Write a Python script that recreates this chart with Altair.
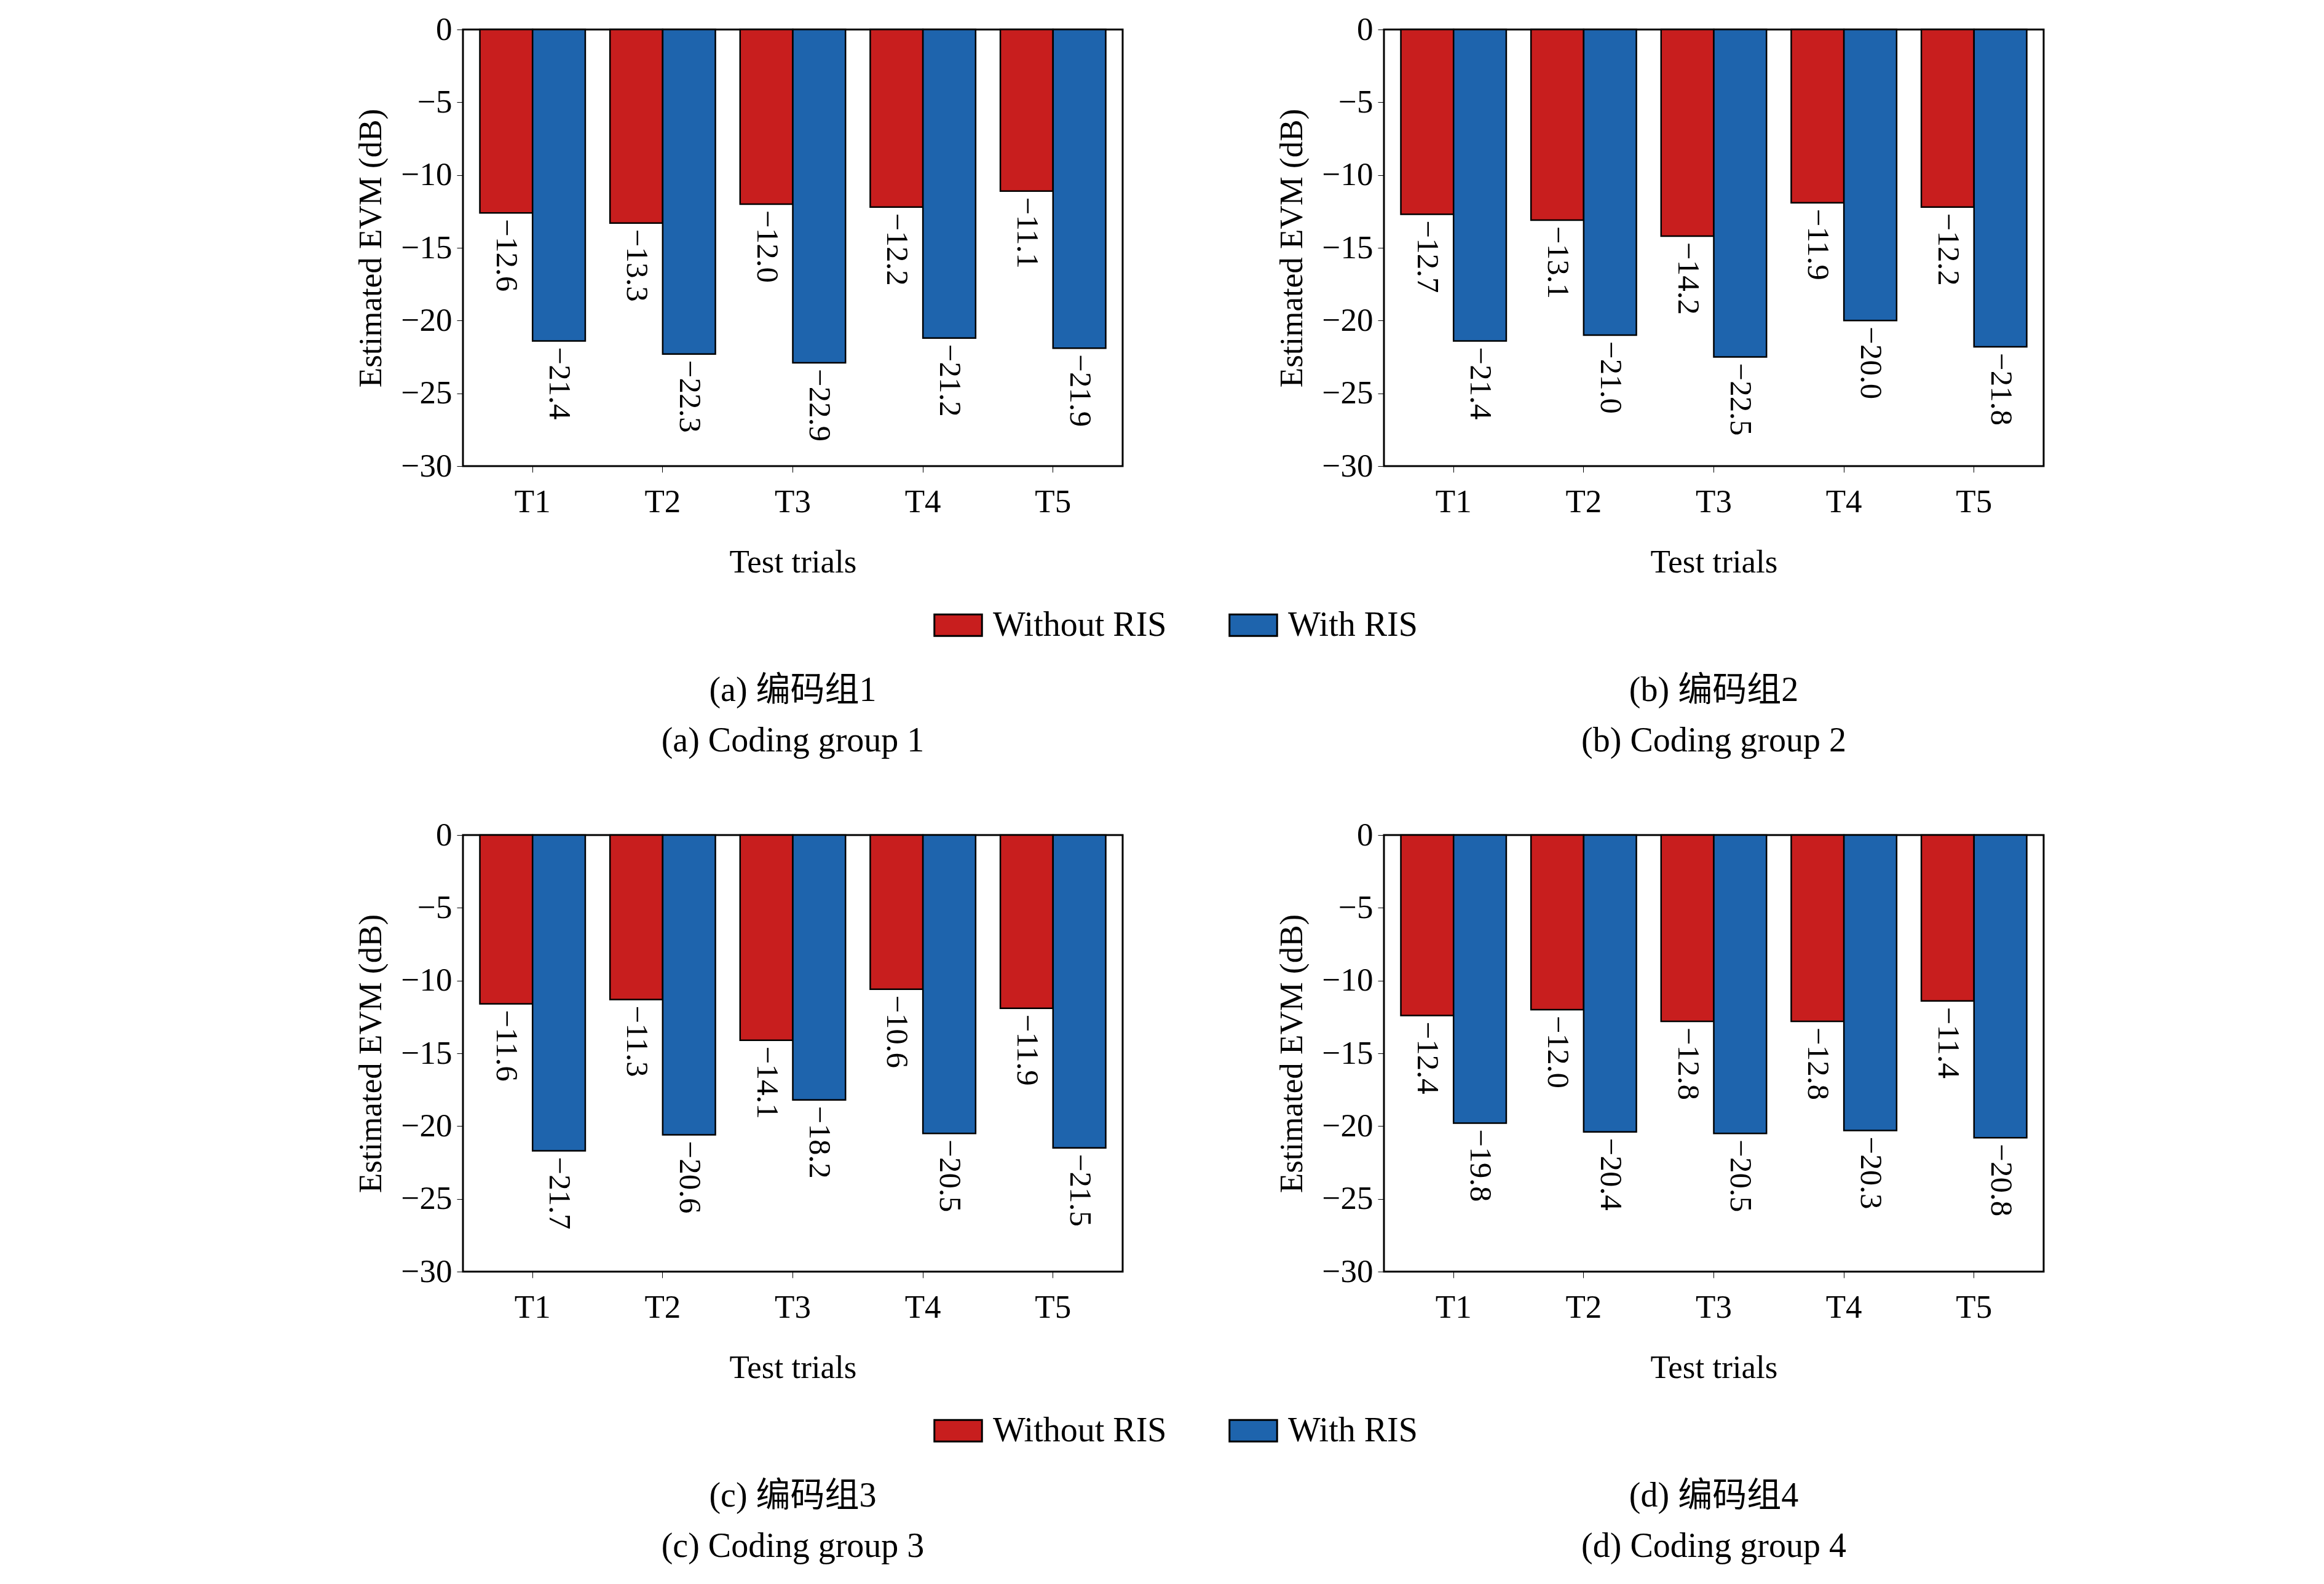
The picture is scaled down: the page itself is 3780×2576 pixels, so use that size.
import altair as alt
import pandas as pd

trials = ["T1", "T2", "T3", "T4", "T5"]
series = ["Without RIS", "With RIS"]
colors = ["#c81e1e", "#1e64ad"]
without = [
    [-12.6, -13.3, -12.0, -12.2, -11.1],
    [-12.7, -13.1, -14.2, -11.9, -12.2],
    [-11.6, -11.3, -14.1, -10.6, -11.9],
    [-12.4, -12.0, -12.8, -12.8, -11.4],
]
with_ris = [
    [-21.4, -22.3, -22.9, -21.2, -21.9],
    [-21.4, -21.0, -22.5, -20.0, -21.8],
    [-21.7, -20.6, -18.2, -20.5, -21.5],
    [-19.8, -20.4, -20.5, -20.3, -20.8],
]
captions = [
    ["(a) 编码组1", "(a) Coding group 1"],
    ["(b) 编码组2", "(b) Coding group 2"],
    ["(c) 编码组3", "(c) Coding group 3"],
    ["(d) 编码组4", "(d) Coding group 4"],
]

FONT = "Liberation Serif, Noto Sans CJK SC"
W, H = 1073, 710
FS = 53


def panel(i, show_legend):
    rows = []
    for s, vals in zip(series, [without[i], with_ris[i]]):
        for t, v in zip(trials, vals):
            rows.append({"trial": t, "series": s, "value": v,
                         "label": f"{v:.1f}".replace("-", "\u2212")})
    df = pd.DataFrame(rows)
    base = alt.Chart(df)
    x = alt.X("trial:N", sort=trials, title="Test trials",
              scale=alt.Scale(paddingInner=0.19, paddingOuter=0.13),
              axis=alt.Axis(labelAngle=0, labelFontSize=FS, titleFontSize=FS,
                            labelFont=FONT, titleFont=FONT, titleFontWeight="normal",
                            tickSize=10, tickColor="black", domainColor="black",
                            labelColor="black", titleColor="black", labelPadding=22,
                            titlePadding=45, domain=False))
    xo = alt.XOffset("series:N", sort=series)
    y = alt.Y("value:Q", title="Estimated EVM (dB)",
              scale=alt.Scale(domain=[-30, 0], nice=False),
              axis=alt.Axis(values=list(range(-30, 1, 5)), labelFontSize=FS,
                            titleFontSize=FS, labelFont=FONT, titleFont=FONT,
                            titleFontWeight="normal", tickSize=10, tickColor="black",
                            domain=False, labelColor="black", titleColor="black",
                            grid=False, labelPadding=8, titlePadding=22))
    if show_legend:
        leg = alt.Legend(orient="none", legendX=765, legendY=928, direction="horizontal",
                         title=None, labelFontSize=56, labelFont=FONT,
                         labelColor="black", columnPadding=95, labelLimit=0,
                         symbolType="M-1,-0.45L1,-0.45L1,0.45L-1,0.45Z",
                         symbolSize=6000, symbolStrokeColor="black",
                         symbolStrokeWidth=3, labelOffset=16)
    else:
        leg = None
    color = alt.Color("series:N", sort=series,
                      scale=alt.Scale(domain=series, range=colors), legend=leg)
    bars = base.mark_bar(stroke="black", strokeWidth=2.5).encode(
        x=x, xOffset=xo, y=y, color=color)
    text = base.mark_text(angle=90, align="left", baseline="middle", dx=10,
                          fontSize=51, font=FONT, color="black").encode(
        x=x, xOffset=xo, y=y, text="label:N")
    return alt.layer(bars, text).properties(
        width=W, height=H,
        title=alt.TitleParams(text=captions[i], orient="bottom", offset=155,
                              fontSize=56, font=FONT, fontWeight="normal",
                              anchor="middle", frame="group", color="black",
                              lineHeight=82))


row1 = alt.hconcat(panel(0, True), panel(1, False), spacing=245)
row2 = alt.hconcat(panel(2, True), panel(3, False), spacing=245)
chart = alt.vconcat(row1, row2, spacing=95).resolve_legend(
    color="independent").configure_view(stroke="black", strokeWidth=3).properties(
    padding={"left": 567, "top": 12, "right": 10, "bottom": 10})

chart.save("out.html", embed_options={"renderer": "svg", "actions": False})
